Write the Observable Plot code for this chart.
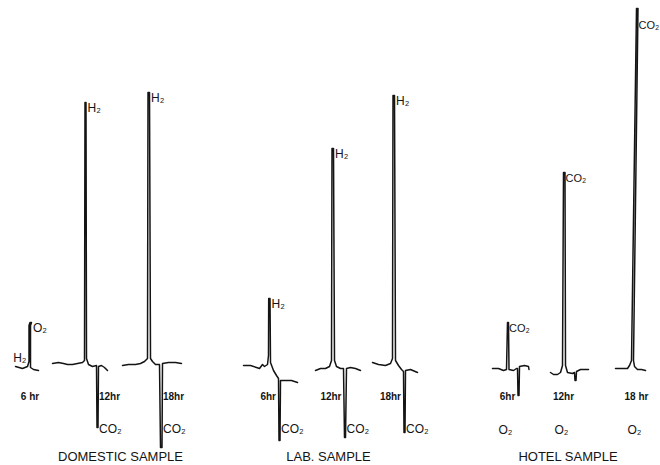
<!DOCTYPE html>
<html>
<head>
<meta charset="utf-8">
<script src="https://cdn.jsdelivr.net/npm/d3@7"></script>
<script src="https://cdn.jsdelivr.net/npm/@observablehq/plot@0.6"></script>
<style>
  html, body { margin: 0; padding: 0; background: #fff; }
  #chart svg { display: block; }
</style>
</head>
<body>
<div id="chart"></div>
<script>
// ---- Data: chromatogram traces as [retention position, detector signal] pairs ----
const domestic6  = [[15,-1],[22,-3],[27,-1],[28.5,4],[28.5,40],[29.5,43],[31,43],[30,40],[30,-2],[33,-4],[38,-5]];
const domestic12 = [[52,2],[58,3],[63,2],[67,1],[72,1],[77,2],[82,3],[84,5],[84.5,263],[85.5,263],[86,7],[88,1],[92,-1],[96,0],[96.5,-62],[97.5,-62],[98,-1],[101,0],[104,-2],[107,-5]];
const domestic18 = [[122,0],[128,1],[135,1],[140,2],[144,4],[147,7],[147.5,273],[149,273],[150,7],[152,4],[155,1],[159,1],[160,-82],[161.5,-82],[162,2],[168,3],[175,3],[181,2]];
const lab6       = [[243,0],[250,0],[256,-2],[259,-3],[262,1],[264,-1],[267,1],[268,10],[268.2,67],[269.5,67],[270,3],[273,-5],[276,-10],[278,-13],[278.5,-75],[279.5,-75],[280,-15],[285,-15],[291,-15],[297,-17]];
const lab12      = [[315,-5],[320,-3],[325,-3],[329,-1],[331,5],[331.5,217],[333,217],[334,5],[336,-1],[340,-3],[343,-3],[344,-72],[345,-72],[346,-3],[350,-2],[355,-3],[360,-5]];
const lab18      = [[372,3],[378,1],[385,0],[390,2],[392,7],[392.5,270],[394,270],[395,5],[398,0],[401,-4],[403,-6],[403.5,-67],[404.5,-67],[405,-5],[410,-4],[417,-7]];
const hotel6     = [[492,-3],[498,-3],[503,-5],[506,-4],[507,43],[508,43],[508.5,-4],[513,-5],[516,-3],[517,-3],[517.5,-30],[518.5,-30],[519,-1],[524,0],[528,-1],[528.5,-4]];
const hotel12    = [[550,-7],[553,-9],[557,-9],[560,-7],[562,0],[563,193],[564.5,193],[565,0],[567,-7],[572,-8],[574,-7],[574.5,-15],[575.5,-15],[576,-6],[580,-4],[588,-4]];
const hotel18    = [[615,-3],[622,-3],[627,-3],[629,0],[631,5],[636,357],[637.5,357],[633,5],[634,-1],[637,-4],[641,-4],[645,-5]];

const sampleNames = ["DOMESTIC SAMPLE", "LAB. SAMPLE", "HOTEL SAMPLE"];
const traceSample = [0, 0, 0, 1, 1, 1, 2, 2, 2];
const traceHours  = ["6 hr", "12hr", "18hr", "6hr", "12hr", "18hr", "6hr", "12hr", "18 hr"];
const upGas       = ["O₂", "H₂", "H₂", "H₂", "H₂", "H₂", "CO₂", "CO₂", "CO₂"];
const downGas     = [null, "CO₂", "CO₂", "CO₂", "CO₂", "CO₂", "O₂", "O₂", "O₂"];
const baselineGas = ["H₂", null, null, null, null, null, null, null, null];

// ---- Layout (not data) ----
const traces = [domestic6, domestic12, domestic18, lab6, lab12, lab18, hotel6, hotel12, hotel18];
const timeRow = -31;   // signal units, row of time labels
const gasRow = -64;    // row of downward-peak labels
const titleRow = -91;
const titleShift = [22, -2, -1];
const titleSpacing = [1, 2, 2];

// ---- Derived tables ----
const lineRows = traces.flatMap((pts, i) => pts.map(([x, y]) => ({x, y, id: i})));

const peakLabels = [];
const timeLabels = [];
traces.forEach((pts, i) => {
  const maxY = d3.max(pts, d => d[1]);
  const minY = d3.min(pts, d => d[1]);
  const tops = pts.filter(d => d[1] === maxY);
  const bots = pts.filter(d => d[1] === minY);
  const topX = d3.max(tops, d => d[0]);
  const topX0 = d3.min(tops, d => d[0]);
  const botX = d3.max(bots, d => d[0]);
  const botX0 = d3.min(bots, d => d[0]);
  const s = traceSample[i];
  const narrow = s === 2;
  peakLabels.push({x: topX + (narrow ? 0.5 : 1.5), y: Math.min(maxY - 6, 340), text: upGas[i], anchor: "start", narrow});
  if (baselineGas[i]) peakLabels.push({x: topX0 - 3.5, y: 7, text: baselineGas[i], anchor: "end", narrow: false});
  let tx, ta;
  if (s === 0) {
    if (downGas[i]) { tx = botX + 1; ta = "start"; } else { tx = topX0; ta = "middle"; }
  } else if (s === 1) { tx = botX0 - 3; ta = "end"; }
  else { tx = topX0; ta = "middle"; }
  timeLabels.push({x: tx, y: timeRow, text: traceHours[i], anchor: ta});
  if (downGas[i]) {
    if (s === 2) peakLabels.push({x: tx - 2, y: gasRow - 1, text: downGas[i], anchor: "middle", narrow: false});
    else peakLabels.push({x: botX + 1, y: gasRow, text: downGas[i], anchor: "start", narrow: false});
  }
});

const titles = sampleNames.map((name, s) => {
  const xs = traces.filter((_, i) => traceSample[i] === s).flat().map(d => d[0]);
  return {x: (d3.min(xs) + d3.max(xs)) / 2 + titleShift[s], y: titleRow, text: name};
});

const ink = "#141414";
const font = "Liberation Sans, Arial, sans-serif";

const chart = Plot.plot({
  width: 660,
  height: 465,
  margin: 0,
  x: {domain: [0, 660], axis: null},
  y: {domain: [-100, 365], axis: null},
  style: {background: "#fff", fontFamily: font},
  marks: [
    Plot.line(lineRows, {x: "x", y: "y", z: "id", stroke: ink, strokeWidth: 1.5, strokeLinejoin: "round", strokeLinecap: "round"}),
    Plot.text(peakLabels.filter(d => d.anchor === "start" && !d.narrow), {x: "x", y: "y", text: "text", textAnchor: "start", fontSize: 12, fill: ink}),
    Plot.text(peakLabels.filter(d => d.anchor === "start" && d.narrow), {x: "x", y: "y", text: "text", textAnchor: "start", fontSize: 11, fill: ink, ariaLabel: "narrow-labels"}),
    Plot.text(peakLabels.filter(d => d.anchor === "end"), {x: "x", y: "y", text: "text", textAnchor: "end", fontSize: 12, fill: ink}),
    Plot.text(peakLabels.filter(d => d.anchor === "middle"), {x: "x", y: "y", text: "text", textAnchor: "middle", fontSize: 12, fill: ink}),
    Plot.text(timeLabels.filter(d => d.anchor === "start"), {x: "x", y: "y", text: "text", textAnchor: "start", fontSize: 10, fontWeight: "bold", fill: ink}),
    Plot.text(timeLabels.filter(d => d.anchor === "end"), {x: "x", y: "y", text: "text", textAnchor: "end", fontSize: 10, fontWeight: "bold", fill: ink}),
    Plot.text(timeLabels.filter(d => d.anchor === "middle"), {x: "x", y: "y", text: "text", textAnchor: "middle", fontSize: 10, fontWeight: "bold", fill: ink}),
    Plot.text(titles, {x: "x", y: "y", text: "text", textAnchor: "middle", fontSize: 13, fill: ink, ariaLabel: "sample-titles"})
  ]
});

d3.select(chart).selectAll('g[aria-label="sample-titles"] text').attr("letter-spacing", (d, i) => titleSpacing[i]);
d3.select(chart).selectAll('g[aria-label="narrow-labels"] text').attr("letter-spacing", "-0.6");
document.getElementById("chart").appendChild(chart);
</script>
</body>
</html>
